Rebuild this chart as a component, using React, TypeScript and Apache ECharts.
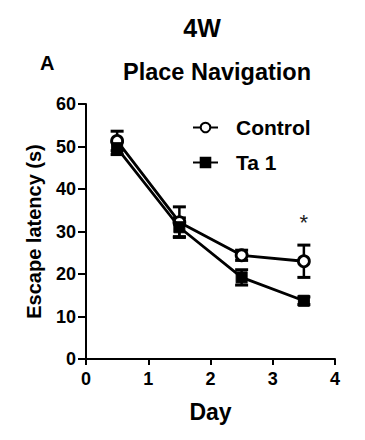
import React, { useEffect, useRef } from "react";
import * as echarts from "echarts";

const days = [0.5, 1.5, 2.5, 3.5];
const controlMean = [51.3, 32.2, 24.4, 23.0];
const controlErr = [2.3, 3.6, 1.2, 3.8];
const ta1Mean = [49.6, 31.0, 19.2, 13.7];
const ta1Err = [1.5, 2.2, 1.8, 0.9];
const xTicks = [0, 1, 2, 3, 4];
const yTicks = [0, 10, 20, 30, 40, 50, 60];

const FONT = "Liberation Sans, Arial, sans-serif";

function errorSeries(name: string, means: number[], errs: number[]) {
  const data = days.map((d, i) => [d, means[i] - errs[i], means[i] + errs[i]]);
  return {
    type: "custom",
    name: name + "_err",
    z: 1,
    data,
    renderItem: (params: any, api: any) => {
      const x = api.value(0);
      const lo = api.coord([x, api.value(1)]);
      const hi = api.coord([x, api.value(2)]);
      const half = 6.5;
      const style = { stroke: "#000", lineWidth: 3 };
      return {
        type: "group",
        children: [
          { type: "line", shape: { x1: lo[0], y1: lo[1], x2: hi[0], y2: hi[1] }, style: { stroke: "#000", lineWidth: 2.5 } },
          { type: "line", shape: { x1: lo[0] - half, y1: lo[1], x2: lo[0] + half, y2: lo[1] }, style },
          { type: "line", shape: { x1: hi[0] - half, y1: hi[1], x2: hi[0] + half, y2: hi[1] }, style },
        ],
      };
    },
  };
}

export default function App() {
  const ref = useRef<HTMLDivElement>(null);
  useEffect(() => {
    if (!ref.current) return;
    const chart = echarts.init(ref.current, null, { renderer: "svg" });
    chart.setOption({
      animation: false,
      textStyle: { fontFamily: FONT },
      title: [
        { text: "4W", left: 197, top: 10, textAlign: "center", textStyle: { fontFamily: FONT, fontWeight: "bold", fontSize: 25, color: "#000" } },
        { text: "A", left: 35, top: 48, textStyle: { fontFamily: FONT, fontWeight: "bold", fontSize: 20, color: "#000" } },
        { text: "Place Navigation", left: 212, top: 55, textAlign: "center", textStyle: { fontFamily: FONT, fontWeight: "bold", fontSize: 23.5, color: "#000" } },
      ],
      legend: {
        orient: "vertical",
        left: 187,
        top: 112,
        itemGap: 14,
        itemWidth: 25,
        itemHeight: 12,
        data: ["Control", "Ta 1"],
        textStyle: { fontFamily: FONT, fontWeight: "bold", fontSize: 21, color: "#000", padding: [0, 0, 0, 13] },
      },
      grid: { left: 86, right: 30, top: 104, bottom: 81 },
      xAxis: {
        type: "value",
        min: 0,
        max: 4,
        interval: 1,
        name: "Day",
        nameLocation: "middle",
        nameGap: 41,
        nameTextStyle: { fontFamily: FONT, fontWeight: "bold", fontSize: 23, color: "#000" },
        axisLine: { lineStyle: { color: "#000", width: 2 } },
        axisTick: { show: true, length: 6, lineStyle: { color: "#000", width: 2 } },
        axisLabel: { fontFamily: FONT, fontWeight: "bold", fontSize: 18, color: "#000", margin: 11, formatter: (v: number) => (xTicks.includes(v) ? String(v) : "") },
        splitLine: { show: false },
      },
      yAxis: {
        type: "value",
        min: 0,
        max: 60,
        interval: 10,
        name: "Escape latency (s)",
        nameLocation: "middle",
        nameGap: 42,
        nameTextStyle: { fontFamily: FONT, fontWeight: "bold", fontSize: 20, color: "#000" },
        axisLine: { show: true, lineStyle: { color: "#000", width: 2 } },
        axisTick: { show: true, length: 8, lineStyle: { color: "#000", width: 2 } },
        axisLabel: { fontFamily: FONT, fontWeight: "bold", fontSize: 18, color: "#000", margin: 10, formatter: (v: number) => (yTicks.includes(v) ? String(v) : "") },
        splitLine: { show: false },
      },
      series: [
        errorSeries("Control", controlMean, controlErr),
        errorSeries("Ta 1", ta1Mean, ta1Err),
        {
          type: "line",
          name: "Control",
          z: 3,
          data: days.map((d, i) => [d, controlMean[i]]),
          symbol: "circle",
          symbolSize: 11,
          lineStyle: { color: "#000", width: 2.8 },
          itemStyle: { color: "#fff", borderColor: "#000", borderWidth: 2.8 },
          markPoint: {
            symbol: "circle",
            symbolSize: 1,
            itemStyle: { color: "rgba(0,0,0,0)", borderWidth: 0 },
            data: [{ coord: [3.5, controlMean[3] + controlErr[3] + 5.3], value: "*" }],
            label: { show: true, position: "inside", formatter: "*", fontSize: 22, color: "#222", fontFamily: FONT },
          },
        },
        {
          type: "line",
          name: "Ta 1",
          z: 4,
          data: days.map((d, i) => [d, ta1Mean[i]]),
          symbol: "rect",
          symbolSize: 11,
          lineStyle: { color: "#000", width: 2.8 },
          itemStyle: { color: "#000", borderColor: "#000", borderWidth: 1 },
        },
      ],
    });
    return () => chart.dispose();
  }, []);
  return <div ref={ref} style={{ position: "absolute", left: 0, top: 0, width: 365, height: 440 }} />;
}
